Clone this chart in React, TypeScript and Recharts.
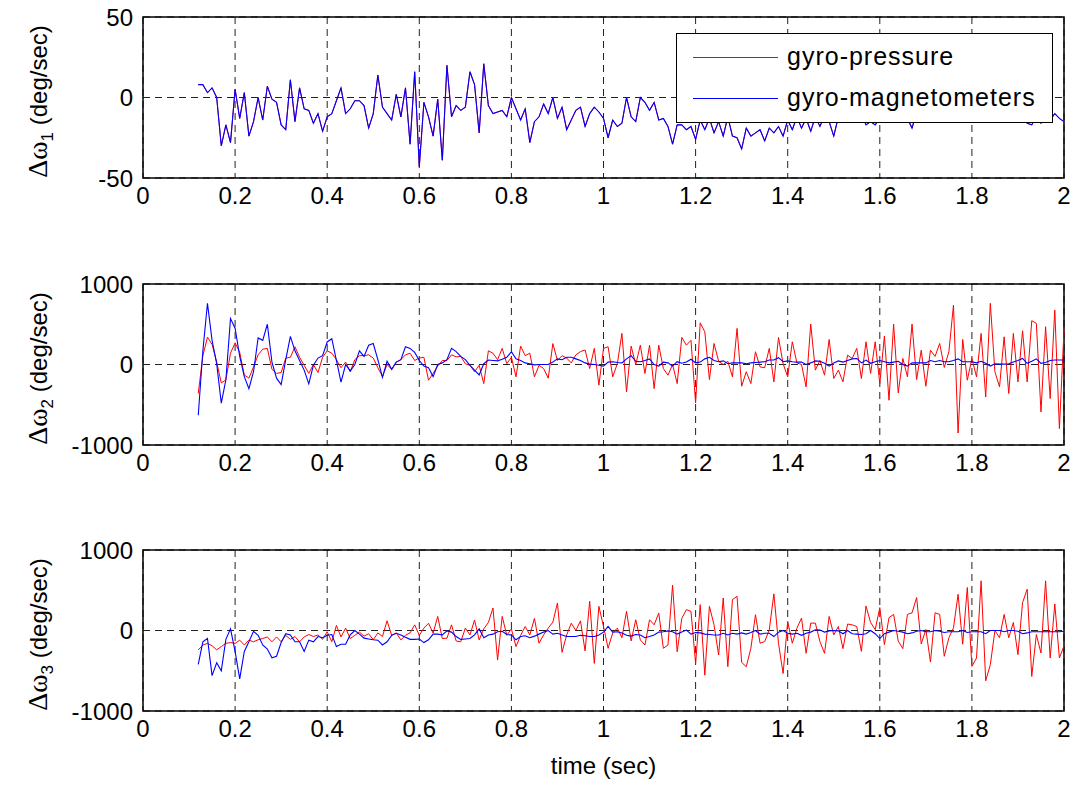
import React from 'react';
import { LineChart, Line, XAxis, YAxis, CartesianGrid, ReferenceArea, Legend } from 'recharts';

// sampling of the traces (sec)
const T0 = 0.12;
const DT = 0.01;

// Δω1: both estimates coincide in the first panel
const dw1 = [
  8, 8, 3, 6, 0, -30, -17, -28,
  5, -13, 3, -24, -15, 0, -14, 7, -1, -3,
  -17, -20, 11, -15, 6, -7, -8, -16, -10, -21,
  -12, -10, -2, 6, -10, -7, -2, -2, -5, -19,
  -10, 14, -6, -10, -14, 2, -12, 6, -29, 16,
  -43, -3, -12, -24, -1, -39, 20, -12, -5, -8,
  -6, 16, 8, -22, 21, -5, -10, -9, -8, -12,
  0, -7, -14, -7, -28, -15, -12, -4, -10, 0,
  -13, -6, -20, -14, -8, -6, -18, -10, -6, -9,
  -13, -25, -14, -18, -16, 0, -12, -15, 0, -3,
  -8, -3, -14, -13, -18, -29, -17, -17, -20, -18,
  -26, -14, -20, -13, -22, -15, -24, -12, -24, -25,
  -32, -19, -24, -22, -20, -27, -19, -22, -18, -24,
  -14, -20, -12, -19, -13, -21, -12, -18, -11, -15,
  -24, -12, -10, -14, -9, -12, -10, -17, -15, -17,
  -13, -10, -15, -8, -12, -10, -13, -19, -9, -12,
  -8, -11, -14, -9, -12, -7, -10, -13, -8, -11,
  -9, -12, -7, -10, -13, -8, -11, -9, -12, -8,
  -11, -13, -16, -17, -12, -16, -11, -14, -10, -13,
  -15,
];

// Δω2 gyro-pressure
const dw2Pressure = [
  -360, 110, 340, 250, 30, -230, -190, 140,
  270, 150, -130, -170, -30, 120, 190, 200, -60, -110,
  -100, 80, 90, 220, 90, -10, -110, 0, -100, 90,
  170, 140, 60, -40, 30, -90, 60, 110, 110, 120,
  80, -40, -150, 0, -60, 30, 60, 120, 140, 50,
  80, 90, -195, -110, -20, 50, 50, 120, 95, 100,
  10, -10, -90, -10, -237, 170, 140, 60, 200, 10,
  90, -153, 228, 110, 140, -153, -10, -50, -170, 260,
  50, 110, 80, 20, 120, 160, 180, -50, 200, -257,
  200, 220, -153, 10, 386, -340, 228, 0, 240, -112,
  240, -300, 240, -50, -133, 0, -237, 336, 240, 300,
  -477, 518, 406, -187, 261, 40, 0, 40, -153, 448,
  -270, -90, -237, 158, -30, -40, 200, -216, 336, 10,
  -153, 282, 20, 0, -278, 502, -70, 50, -133, 311,
  -174, -70, -216, 116, 75, 200, -174, 282, -112, 282,
  -237, 353, -444, 502, -353, 75, -153, 502, -187, 178,
  -270, 178, 100, 261, -37, 158, 739, -851, 311, -195,
  75, -153, 386, -403, 760, -91, -278, 344, -361, 386,
  -216, 419, -216, 544, 510, -589, 469, -423, 676, -797,
  427,
];

// Δω2 gyro-magnetometers
const dw2Magneto = [
  -630, 170, 760, 300, 10, -480, -190, 570,
  450, 100, -150, -300, -90, 330, 300, 500, 30, -170,
  -250, 60, 350, 170, 50, -70, -240, -10, 80, 110,
  280, 320, 50, -220, 0, -80, 0, 170, 100, 240,
  260, 60, -160, 40, -60, 30, 60, 220, 200, 150,
  50, -20, -40, -150, 0, 20, 60, 200, 160, 100,
  60, -10, -70, -130, 10, 55, 50, 45, 65, 90,
  160, 70, 50, 20, 10, -5, 0, 0, 0, 30,
  70, 60, 90, 90, 70, 50, 20, 5, 0, -10,
  -20, 30, 35, 25, 20, 70, 110, 40, 35, 50,
  70, 0, -20, 30, 20, -20, 35, 15, 30, 65,
  20, 30, 70, 90, 50, 35, 45, 10, 20, 20,
  20, 10, 20, 25, 30, 35, 55, 55, 85, 35,
  45, 35, 30, 30, 0, 20, 45, 40, 15, -20,
  20, 45, 30, 50, 70, 75, 20, 55, 15, 35,
  50, 35, 20, 30, 40, 0, -20, 20, 20, 20,
  20, 50, 35, 50, 35, 35, 50, 70, 35, 35,
  35, 20, 40, 15, -20, 10, 5, 5, 10, 30,
  50, 75, 15, 40, 70, 15, 25, 50, 55, 55,
  55,
];

// Δω3 gyro-pressure
const dw3Pressure = [
  -242, -180, -160, -190, -240, -200, -160, -150,
  -160, -120, -180, -120, -140, -115, -100, -80, -140, -80,
  -140, -60, -110, -75, -140, -80, -50, -75, -55, -110,
  -15, -140, 63, -80, 30, -100, -60, -20, -70, -40,
  -115, -30, -75, 121, -60, -30, -117, -60, -30, 70,
  -60, 30, 90, -33, 175, -100, -96, 70, -130, -140,
  30, -55, 130, -117, 20, 100, 280, -367, 175, -60,
  20, -200, -60, 50, -55, 150, -158, -55, 30, 104,
  342, -271, -55, 90, 0, 120, -254, 363, -409, 300,
  50, -221, -30, 30, -90, 238, -130, 133, -117, -180,
  133, 71, 217, -221, -180, 563, -263, 150, 259, 238,
  -409, 321, -555, 300, 71, -304, 404, -450, 384, 425,
  -396, -450, -221, 196, -158, -138, 8, 455, -158, -534,
  113, -158, 29, 154, -283, 92, 92, -138, -283, 175,
  -55, 50, -225, 80, 70, 50, -259, 304, 100, 10,
  284, -175, 160, 200, -130, -225, 200, 220, 409, -166,
  12, -392, 220, 200, -321, -90, 33, 450, -170, 534,
  -446, -342, 617, -625, -425, 0, -90, 200, -90, 100,
  -300, 346, 513, -571, -50, -280, 617, -342, 330, -342,
  -190,
];

// Δω3 gyro-magnetometers
const dw3Magneto = [
  -421, -140, -100, -560, -400, -500, -110, 20,
  -260, -600, -260, -140, -10, -60, -180, -230, -340, -320,
  -150, -40, -55, -140, -140, -260, -120, -140, -75, -90,
  -60, -50, -200, -170, -170, -55, 0, -45, -95, -105,
  -115, -120, -180, -140, -60, -35, -55, -85, -110, -110,
  -105, -150, -115, -45, -45, -55, -5, -20, -75, -110,
  -105, -100, -55, 20, -90, -55, -45, -15, -10, -50,
  -55, -115, -75, -65, -90, -70, -45, -20, 0, -45,
  -35, -55, -75, -75, -75, -60, -65, -75, -75, -55,
  -20, 50, -20, -15, -30, -60, -70, -50, -55, -90,
  -75, -55, -20, -15, -5, -15, -45, -20, 5, -45,
  -25, -30, -45, -50, -55, -55, -35, -55, -35, -45,
  -30, -45, -25, 0, -45, -35, -35, -75, -20, 0,
  -35, -45, -35, -60, -35, -20, 10, 5, -20, -5,
  0, -5, -40, 0, -40, -45, -50, -40, 0, -40,
  -100, -40, -20, 0, -10, -20, -40, -30, -10, 0,
  -15, -15, 0, -10, -25, -15, -15, -15, 0, -25,
  -15, -15, -15, -40, 0, 0, 0, -15, 0, 0,
  -10, -40, -30, -15, -15, -15, -15, -15, -15, -15,
  -10,
];

const xTicks = [0, 0.2, 0.4, 0.6, 0.8, 1, 1.2, 1.4, 1.6, 1.8, 2];
const yTicks1 = [-50, 0, 50];
const yTicks23 = [-1000, 0, 1000];

const time = dw1.map((_, i) => Math.round((T0 + i * DT) * 100) / 100);

const build = (p: number[], m: number[]) => time.map((t, i) => ({ t, p: p[i], m: m[i] }));

const data1 = build(dw1, dw1);
const data2 = build(dw2Pressure, dw2Magneto);
const data3 = build(dw3Pressure, dw3Magneto);

const SANS = '"Liberation Sans", Arial, Helvetica, sans-serif';
const SERIF = '"Liberation Serif", "Times New Roman", serif';

const YLabel = ({ viewBox, sub }: any) => {
  const y0 = viewBox && viewBox.y != null ? viewBox.y : 17;
  const h = viewBox && viewBox.height != null ? viewBox.height : 161;
  const cx = 47;
  const cy = y0 + h / 2 + 4;
  return (
    <text
      x={cx}
      y={cy}
      transform={`rotate(-90 ${cx} ${cy})`}
      textAnchor="middle"
      fontSize={24}
      fill="#000"
      fontFamily={SANS}
    >
      <tspan fontFamily={SERIF} fontSize={28}>Δω</tspan>
      <tspan fontSize={17} dy={6}>{sub}</tspan>
      <tspan dy={-6}> (deg/sec)</tspan>
    </text>
  );
};

const LegendBox = () => (
  <div
    style={{
      width: 375,
      height: 88,
      border: '1px solid #000',
      background: '#fff',
      position: 'relative',
      fontFamily: SANS,
      fontSize: 25,
      letterSpacing: 1,
      color: '#000',
    }}
  >
    {[
      { name: 'gyro-pressure', color: '#ff0000', y: 23 },
      { name: 'gyro-magnetometers', color: '#0000ff', y: 64 },
    ].map((e) => (
      <div key={e.name}>
        <div style={{ position: 'absolute', left: 16, top: e.y, width: 85, height: 1, background: e.color }} />
        <div style={{ position: 'absolute', left: 110, top: e.y - 16, lineHeight: '30px', whiteSpace: 'nowrap' }}>
          {e.name}
        </div>
      </div>
    ))}
  </div>
);

interface PanelProps {
  data: { t: number; p: number; m: number }[];
  top: number;
  domain: [number, number];
  ticks: number[];
  sub: string;
  legend?: boolean;
  xLabel?: boolean;
}

const Panel: React.FC<PanelProps> = ({ data, top, domain, ticks, sub, legend, xLabel }) => (
  <div style={{ position: 'absolute', left: 0, top }}>
    <LineChart
      width={1076}
      height={xLabel ? 272 : 228}
      data={data}
      margin={{ top: 17, right: 12, bottom: xLabel ? 54 : 10, left: 10 }}
      style={{ fontFamily: SANS }}
    >
      <CartesianGrid stroke="#222" strokeDasharray="7 5" />
      <XAxis
        dataKey="t"
        type="number"
        domain={[0, 2]}
        ticks={xTicks}
        interval={0}
        height={40}
        axisLine={false}
        tickLine={false}
        tickSize={0}
        tickMargin={9}
        tick={{ fill: '#000', fontSize: 24 }}
        label={
          xLabel
            ? { value: 'time (sec)', position: 'bottom', offset: 6, fill: '#000', fontSize: 24 }
            : undefined
        }
      />
      <YAxis
        type="number"
        domain={domain}
        ticks={ticks}
        interval={0}
        width={133}
        axisLine={false}
        tickLine={false}
        tickSize={0}
        tickMargin={10}
        allowDataOverflow
        tick={{ fill: '#000', fontSize: 24 }}
        label={<YLabel sub={sub} />}
      />
      <Line type="linear" dataKey="p" stroke="#ff0000" strokeWidth={1} dot={false} isAnimationActive={false} />
      <Line type="linear" dataKey="m" stroke="#0000ff" strokeWidth={1.1} dot={false} isAnimationActive={false} />
      <ReferenceArea
        x1={0}
        x2={2}
        y1={domain[0]}
        y2={domain[1]}
        fill="none"
        stroke="#000"
        strokeWidth={1.5}
        fillOpacity={0}
      />
      {legend && (
        <Legend
          layout="horizontal"
          verticalAlign="middle"
          align="center"
          wrapperStyle={{ left: 676, top: 33, width: 377, height: 90 }}
          content={<LegendBox />}
        />
      )}
    </LineChart>
  </div>
);

const App: React.FC = () => (
  <div style={{ position: 'absolute', left: 0, top: 0, width: 1076, height: 786, background: '#fff' }}>
    <Panel data={data1} top={0} domain={[-50, 50]} ticks={yTicks1} sub="1" legend />
    <Panel data={data2} top={267} domain={[-1000, 1000]} ticks={yTicks23} sub="2" />
    <Panel data={data3} top={533} domain={[-1000, 1000]} ticks={yTicks23} sub="3" xLabel />
  </div>
);

export default App;
